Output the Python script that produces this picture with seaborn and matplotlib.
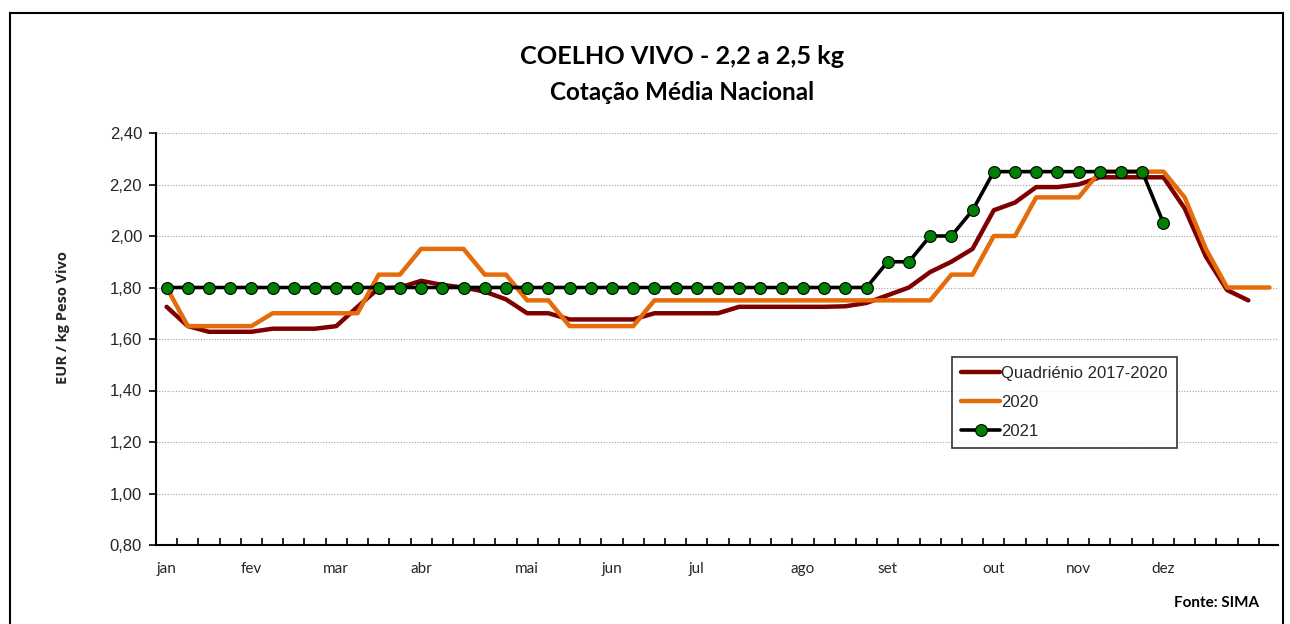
import numpy as np
import pandas as pd
import seaborn as sns
import matplotlib.pyplot as plt
from matplotlib.patches import Rectangle
from matplotlib.ticker import FixedLocator, FuncFormatter

# weekly average price, EUR / kg live weight
quad_2017_2020 = [1.725, 1.65, 1.628, 1.628, 1.628, 1.64, 1.64, 1.64, 1.65, 1.725,
                  1.797, 1.80, 1.826, 1.81, 1.80, 1.784, 1.754, 1.70, 1.70, 1.676,
                  1.676, 1.676, 1.676, 1.70, 1.70, 1.70, 1.70, 1.725, 1.725, 1.725,
                  1.725, 1.725, 1.727, 1.74, 1.77, 1.80, 1.86, 1.90, 1.95, 2.10,
                  2.13, 2.19, 2.19, 2.20, 2.228, 2.228, 2.228, 2.228, 2.107, 1.92,
                  1.79, 1.75]
year_2020 = [1.80, 1.65, 1.65, 1.65, 1.65, 1.70, 1.70, 1.70, 1.70, 1.70,
             1.85, 1.85, 1.95, 1.95, 1.95, 1.85, 1.85, 1.75, 1.75, 1.65,
             1.65, 1.65, 1.65, 1.75, 1.75, 1.75, 1.75, 1.75, 1.75, 1.75,
             1.75, 1.75, 1.75, 1.75, 1.75, 1.75, 1.75, 1.85, 1.85, 2.00,
             2.00, 2.15, 2.15, 2.15, 2.25, 2.25, 2.25, 2.25, 2.15, 1.95,
             1.80, 1.80, 1.80]
year_2021 = [1.80, 1.80, 1.80, 1.80, 1.80, 1.80, 1.80, 1.80, 1.80, 1.80,
             1.80, 1.80, 1.80, 1.80, 1.80, 1.80, 1.80, 1.80, 1.80, 1.80,
             1.80, 1.80, 1.80, 1.80, 1.80, 1.80, 1.80, 1.80, 1.80, 1.80,
             1.80, 1.80, 1.80, 1.80, 1.90, 1.90, 2.00, 2.00, 2.10, 2.25,
             2.25, 2.25, 2.25, 2.25, 2.25, 2.25, 2.25, 2.05]

month_labels = ['jan', 'fev', 'mar', 'abr', 'mai', 'jun', 'jul', 'ago', 'set', 'out', 'nov', 'dez']
month_weeks = [0, 4, 8, 12, 17, 21, 25, 30, 34, 39, 43, 47]

df_q = pd.DataFrame({'semana': np.arange(len(quad_2017_2020)), 'preco': quad_2017_2020})
df_20 = pd.DataFrame({'semana': np.arange(len(year_2020)), 'preco': year_2020})
df_21 = pd.DataFrame({'semana': np.arange(len(year_2021)), 'preco': year_2021})

sns.set_style('white')
plt.rcParams['font.family'] = ['Liberation Sans', 'DejaVu Sans']

fig = plt.figure(figsize=(12.9, 6.24), dpi=100)
ax = fig.add_axes([156 / 1290, 1 - 545 / 624, (1278 - 156) / 1290, (545 - 133) / 624])

#outer frame of the chart
fig.patches.append(Rectangle((10 / 1290, -0.05), 1273 / 1290, 1.05 - 13 / 624,
                             transform=fig.transFigure, fill=False, edgecolor='black', lw=1.5))

sns.lineplot(data=df_q, x='semana', y='preco', ax=ax, color='#7F0000', lw=3.2,
             label='Quadriénio 2017-2020')
sns.lineplot(data=df_20, x='semana', y='preco', ax=ax, color='#E46C0A', lw=3.2, label='2020')
sns.lineplot(data=df_21, x='semana', y='preco', ax=ax, color='black', lw=2.6, marker='o',
             markersize=8.5, markerfacecolor='#008000', markeredgecolor='black',
             markeredgewidth=0.8, label='2021')

ax.set_xlim(-0.5, 52.4)
ax.set_ylim(0.8, 2.4)
ax.set_yticks(np.arange(0.8, 2.41, 0.2))
ax.yaxis.set_major_formatter(FuncFormatter(lambda v, p: f'{v:.2f}'.replace('.', ',')))
ax.grid(axis='y', color='#A0A0A0', linestyle=(0, (1, 1.5)), lw=0.8)
ax.grid(axis='x', visible=False)

ax.set_xticks(month_weeks)
ax.set_xticklabels(month_labels, family=['Lato', 'DejaVu Sans'], fontsize=11)
ax.xaxis.set_minor_locator(FixedLocator(np.arange(0.5, 52.4, 1)))
ax.tick_params(axis='x', which='major', length=0, pad=12)
ax.tick_params(axis='x', which='minor', direction='in', length=5, width=1.2, color='black')
ax.tick_params(axis='y', which='major', direction='out', length=5, width=1.2,
               color='black', labelsize=12, pad=5)
ax.yaxis.set_ticks_position('left')
ax.xaxis.set_ticks_position('bottom')

for side in ['top', 'right']:
    ax.spines[side].set_visible(False)
for side in ['left', 'bottom']:
    ax.spines[side].set_color('black')
    ax.spines[side].set_linewidth(1.5)

ax.set_xlabel('')
ax.set_ylabel('EUR / kg Peso Vivo', fontsize=10.5, fontweight='bold',
              family=['Open Sans', 'DejaVu Sans'])
ax.yaxis.set_label_coords(-0.0766, 0.551)

leg = ax.legend(loc='upper left', bbox_to_anchor=(0.7094, 0.4563), fontsize=12,
                frameon=True, fancybox=False, edgecolor='black', handlelength=2.35,
                handletextpad=0.05, labelspacing=0.82, borderpad=0.55, borderaxespad=0)
leg.get_frame().set_linewidth(1.2)

fig.text(682 / 1290, 1 - 56 / 624, 'COELHO VIVO - 2,2 a 2,5 kg', ha='center', va='center',
         fontsize=18.2, fontweight='bold', color='black', family=['Lato', 'DejaVu Sans'])
fig.text(682 / 1290, 1 - 93 / 624, 'Cotação Média Nacional', ha='center', va='center',
         fontsize=17.5, fontweight='bold', color='black', family=['Lato', 'DejaVu Sans'])
fig.text(1259 / 1290, 1 - 603 / 624, 'Fonte: SIMA', ha='right', va='center',
         fontsize=11, fontweight='bold', color='black', family=['Lato', 'DejaVu Sans'])

fig.savefig('out.png', dpi=100)
